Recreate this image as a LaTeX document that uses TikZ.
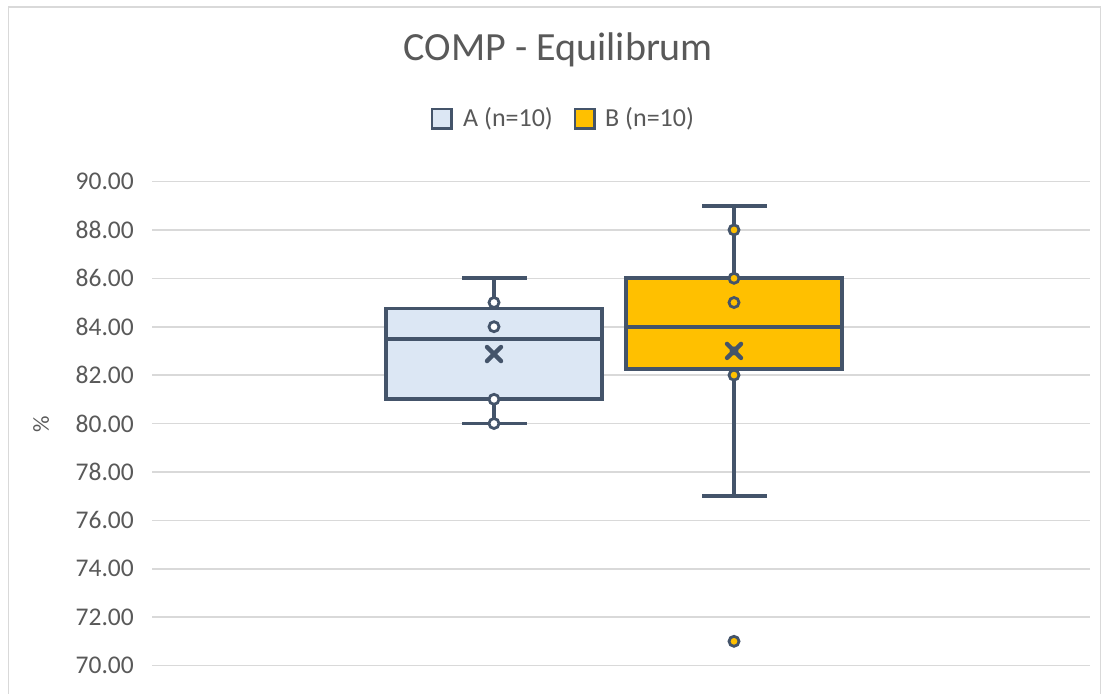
\documentclass[tikz,border=0pt]{standalone}
\usepackage{fontspec}
\setmainfont{Carlito}
\definecolor{gridc}{HTML}{D9D9D9}
\definecolor{txt}{HTML}{595959}
\definecolor{slate}{HTML}{44546A}
\definecolor{afill}{HTML}{DCE7F4}
\definecolor{bfill}{HTML}{FFC000}
\tikzset{
  gridline/.style={gridc, line width=1.6pt},
  boxline/.style={slate, line width=3.8pt},
  whisk/.style={slate, line width=3.8pt},
  ptA/.style={circle, draw=slate, fill=white, line width=2.8pt, inner sep=0pt, minimum size=10pt},
  ptB/.style={circle, draw=slate, fill=bfill, line width=2.8pt, inner sep=0pt, minimum size=10pt},
  meanx/.style={slate, line width=4.4pt, line cap=round},
  ylab/.style={anchor=east, text=txt, font=\fontsize{25.5}{25.5}\selectfont, inner sep=0pt},
  legtxt/.style={anchor=west, text=txt, font=\fontsize{26}{26}\selectfont, inner sep=0pt},
}
\begin{document}
\begin{tikzpicture}[x=1pt,y=1pt]
\useasboundingbox (0,0) rectangle (1102,-693);
\fill[white] (0,0) rectangle (1102,-693);
\draw[gridc, line width=1.5pt] (8.5,-700) -- (8.5,-7) -- (1100.5,-7) -- (1100.5,-700);
\node[anchor=base, text=txt, font=\fontsize{40}{40}\selectfont, inner sep=0pt] (title) at (558.5,-60) {COMP - Equilibrum};
% legend
\node[draw=slate, fill=afill, line width=2.8pt, minimum size=19.5pt, inner sep=0pt] (legA) at (441.7,-118.7) {};
\node[legtxt] (legAt) at (463,-118.7) {A (n=10)};
\node[draw=slate, fill=bfill, line width=2.8pt, minimum size=19.5pt, inner sep=0pt] (legB) at (584.7,-118.7) {};
\node[legtxt] (legBt) at (605,-118.7) {B (n=10)};
\node[rotate=90, text=txt, font=\fontsize{23}{23}\selectfont, inner sep=0pt] (ytitle) at (41,-424) {\%};
\begin{scope}[y=24.2pt, yshift=-2359.5pt]
  \foreach \v in {70,72,...,90} {
    \draw[gridline] (152,\v) -- (1090,\v);
    \node[ylab] at (134,\v) {\v.00};
  }
  % Box A
  \coordinate (Atop) at (494,86);
  \coordinate (Abot) at (494,80);
  \draw[whisk] (Atop) -- (494,84.75);
  \draw[whisk] (Abot) -- (494,81);
  \draw[whisk] (462,86) -- (527,86);
  \draw[whisk] (462,80) -- (527,80);
  \filldraw[boxline, fill=afill] (386,81) rectangle (602,84.75);
  \draw[boxline] (386,83.5) -- (602,83.5);
  \draw[meanx] (487,82.87) ++(0,0.29) -- ++(14,-0.58) (487,82.87) ++(0,-0.29) -- ++(14,0.58);
  \foreach \p in {85,84,81,80} \node[ptA] at (494,\p) {};
  % Box B
  \coordinate (Btop) at (734,89);
  \coordinate (Bbot) at (734,77);
  \draw[whisk] (Btop) -- (734,86);
  \draw[whisk] (Bbot) -- (734,82.25);
  \draw[whisk] (702,89) -- (767,89);
  \draw[whisk] (702,77) -- (767,77);
  \filldraw[boxline, fill=bfill] (626,82.25) rectangle (842,86);
  \draw[boxline] (626,84) -- (842,84);
  \draw[meanx] (727,83) ++(0,0.29) -- ++(14,-0.58) (727,83) ++(0,-0.29) -- ++(14,0.58);
  \fill[slate] (734,83) circle (4.5pt);
  \foreach \p in {88,86,85,82,71} \node[ptB] at (734,\p) {};
\end{scope}
\end{tikzpicture}
\end{document}
